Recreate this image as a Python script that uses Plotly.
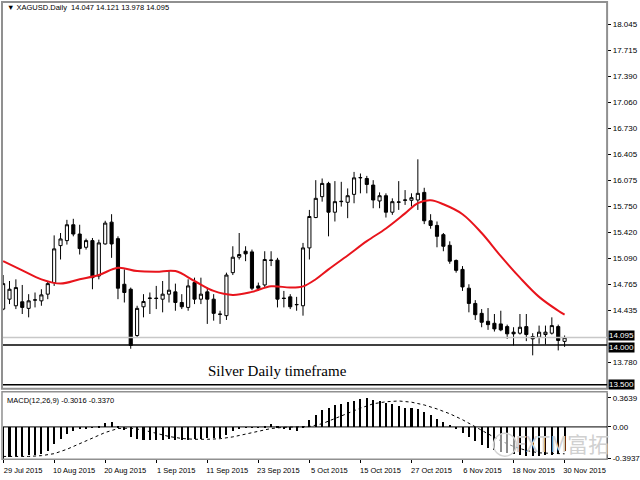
import plotly.graph_objects as go

dates = [
    "2015-07-29", "2015-07-30", "2015-07-31",
    "2015-08-03", "2015-08-04", "2015-08-05", "2015-08-06", "2015-08-07",
    "2015-08-10", "2015-08-11", "2015-08-12", "2015-08-13", "2015-08-14",
    "2015-08-17", "2015-08-18", "2015-08-19", "2015-08-20", "2015-08-21",
    "2015-08-24", "2015-08-25", "2015-08-26", "2015-08-27", "2015-08-28",
    "2015-08-31", "2015-09-01", "2015-09-02", "2015-09-03", "2015-09-04",
    "2015-09-07", "2015-09-08", "2015-09-09", "2015-09-10", "2015-09-11",
    "2015-09-14", "2015-09-15", "2015-09-16", "2015-09-17", "2015-09-18",
    "2015-09-21", "2015-09-22", "2015-09-23", "2015-09-24", "2015-09-25",
    "2015-09-28", "2015-09-29", "2015-09-30", "2015-10-01", "2015-10-02",
    "2015-10-05", "2015-10-06", "2015-10-07", "2015-10-08", "2015-10-09",
    "2015-10-12", "2015-10-13", "2015-10-14", "2015-10-15", "2015-10-16",
    "2015-10-19", "2015-10-20", "2015-10-21", "2015-10-22", "2015-10-23",
    "2015-10-26", "2015-10-27", "2015-10-28", "2015-10-29", "2015-10-30",
    "2015-11-02", "2015-11-03", "2015-11-04", "2015-11-05", "2015-11-06",
    "2015-11-09", "2015-11-10", "2015-11-11", "2015-11-12", "2015-11-13",
    "2015-11-16", "2015-11-17", "2015-11-18", "2015-11-19", "2015-11-20",
    "2015-11-23", "2015-11-24", "2015-11-25", "2015-11-26", "2015-11-27",
    "2015-11-30",
]

open_ = [14.454, 14.579, 14.496, 14.546, 14.463, 14.567, 14.558, 14.642, 14.788, 15.254,
         15.317, 15.517, 15.400, 15.233, 15.317, 14.871, 15.275, 15.550, 15.342, 14.767,
         14.704, 14.121, 14.483, 14.588, 14.592, 14.579, 14.642, 14.671, 14.537, 14.475,
         14.788, 14.579, 14.671, 14.579, 14.392, 14.371, 14.913, 15.108, 15.183, 15.175,
         14.746, 14.758, 15.067, 15.071, 14.592, 14.608, 14.508, 14.496, 15.225, 15.608,
         15.871, 16.038, 15.675, 15.808, 15.800, 15.900, 16.108, 16.100, 16.017, 15.817,
         15.883, 15.675, 15.800, 15.825, 15.825, 15.829, 15.925, 15.567, 15.508, 15.392,
         15.258, 15.067, 14.954, 14.717, 14.525, 14.400, 14.300, 14.275, 14.267, 14.233,
         14.163, 14.150, 14.233, 14.108, 14.100, 14.133, 14.150, 14.233, 14.047]
high = [14.883, 14.808, 14.829, 14.758, 14.642, 14.663, 14.704, 14.808, 15.383, 15.413,
        15.579, 15.592, 15.517, 15.342, 15.350, 15.329, 15.567, 15.650, 15.371, 14.954,
        14.725, 14.496, 14.642, 14.663, 14.746, 14.808, 14.933, 14.775, 14.642, 14.829,
        14.850, 14.850, 14.725, 14.642, 14.433, 14.913, 15.246, 15.413, 15.246, 15.204,
        14.788, 15.183, 15.183, 15.100, 14.683, 14.642, 14.608, 15.288, 15.704, 16.079,
        16.100, 16.058, 16.067, 16.058, 15.975, 16.183, 16.163, 16.133, 16.079, 15.925,
        15.913, 15.850, 16.067, 15.954, 15.913, 16.342, 15.983, 15.650, 15.558, 15.413,
        15.308, 15.079, 14.996, 14.767, 14.567, 14.454, 14.467, 14.392, 14.433, 14.258,
        14.225, 14.392, 14.392, 14.150, 14.246, 14.246, 14.350, 14.258, 14.121]
low = [14.440, 14.517, 14.454, 14.392, 14.350, 14.475, 14.496, 14.579, 14.746, 15.079,
       15.267, 15.371, 15.142, 15.204, 14.704, 14.829, 15.267, 15.100, 14.579, 14.537,
       13.954, 14.100, 14.350, 14.392, 14.454, 14.413, 14.537, 14.433, 14.454, 14.433,
       14.517, 14.517, 14.267, 14.308, 14.267, 14.317, 14.883, 15.079, 15.058, 14.692,
       14.683, 14.733, 14.996, 14.475, 14.475, 14.454, 14.433, 14.371, 15.079, 15.600,
       15.808, 15.371, 15.558, 15.746, 15.600, 15.788, 15.913, 15.913, 15.725, 15.725,
       15.608, 15.642, 15.704, 15.767, 15.746, 15.704, 15.525, 15.467, 15.233, 15.183,
       15.025, 14.913, 14.683, 14.413, 14.317, 14.225, 14.192, 14.171, 14.175, 14.079,
       13.996, 14.133, 14.050, 13.871, 14.017, 14.008, 14.133, 13.933, 13.978]
close = [14.775, 14.704, 14.725, 14.475, 14.558, 14.570, 14.633, 14.775, 15.213, 15.338,
         15.517, 15.400, 15.217, 15.317, 14.850, 15.288, 15.538, 15.275, 14.717, 14.663,
         13.996, 14.463, 14.550, 14.592, 14.588, 14.642, 14.692, 14.537, 14.483, 14.746,
         14.579, 14.642, 14.579, 14.400, 14.388, 14.883, 15.108, 15.142, 15.150, 14.717,
         14.717, 15.079, 15.071, 14.579, 14.588, 14.483, 14.512, 15.225, 15.621, 15.850,
         16.038, 15.675, 15.808, 15.812, 15.883, 16.108, 16.112, 16.025, 15.829, 15.883,
         15.675, 15.808, 15.804, 15.829, 15.858, 15.913, 15.567, 15.508, 15.371, 15.246,
         15.058, 14.942, 14.733, 14.525, 14.383, 14.288, 14.258, 14.204, 14.192, 14.142,
         14.142, 14.225, 14.133, 14.079, 14.163, 14.163, 14.246, 14.058, 14.095]

# red moving average, read at selected bars
ma_dates = ["2015-07-29", "2015-08-03", "2015-08-06", "2015-08-11", "2015-08-14",
            "2015-08-19", "2015-08-24", "2015-08-27", "2015-09-01", "2015-09-04",
            "2015-09-09", "2015-09-14", "2015-09-17", "2015-09-22", "2015-09-25",
            "2015-09-30", "2015-10-02", "2015-10-06", "2015-10-08", "2015-10-13",
            "2015-10-16", "2015-10-21", "2015-10-26", "2015-10-28", "2015-10-30",
            "2015-11-03", "2015-11-06", "2015-11-11", "2015-11-16", "2015-11-19",
            "2015-11-24", "2015-11-27", "2015-11-30"]
ma_values = [15.058, 14.942, 14.829, 14.775, 14.829,
             14.883, 14.975, 14.933, 14.925, 14.933,
             14.808, 14.683, 14.633, 14.671, 14.742,
             14.725, 14.740, 14.830, 14.954, 15.130,
             15.310, 15.470, 15.660, 15.790, 15.825,
             15.775, 15.650, 15.413, 15.121, 14.850,
             14.608, 14.433, 14.383]

macd = [-0.3937, -0.375, -0.365, -0.362, -0.352, -0.345, -0.333, -0.300, -0.207, -0.150,
        -0.084, -0.043, -0.018, -0.010, -0.006, 0.006, 0.047, 0.064, 0.014, -0.035,
        -0.125, -0.150, -0.158, -0.158, -0.158, -0.158, -0.150, -0.158, -0.166, -0.158,
        -0.150, -0.146, -0.141, -0.137, -0.133, -0.100, -0.051, -0.014, 0.002, -0.002,
        0.002, 0.014, 0.035, 0.006, -0.018, -0.035, -0.043, 0.020, 0.085, 0.150,
        0.219, 0.244, 0.273, 0.293, 0.314, 0.334, 0.355, 0.3639, 0.342, 0.326,
        0.301, 0.285, 0.260, 0.244, 0.244, 0.228, 0.191, 0.150, 0.109, 0.068,
        0.027, -0.014, -0.068, -0.125, -0.178, -0.225, -0.255, -0.280, -0.305, -0.325,
        -0.340, -0.350, -0.355, -0.360, -0.358, -0.352, -0.345, -0.330, -0.3016]

sig_dates = dates[0::2]
sig_values = [-0.370, -0.372, -0.370, -0.360, -0.335, -0.280, -0.210, -0.140, -0.070, -0.020,
              -0.015, -0.040, -0.080, -0.120, -0.145, -0.155, -0.155, -0.148, -0.125, -0.090,
              -0.055, -0.020, -0.005, 0.000, 0.005, 0.040, 0.100, 0.170, 0.235, 0.290,
              0.315, 0.325, 0.310, 0.275, 0.225, 0.165, 0.090, 0.000, -0.090, -0.175,
              -0.245, -0.295, -0.325, -0.335, -0.337]

price_ticks = [18.045, 17.715, 17.390, 17.060, 16.730, 16.405, 16.075, 15.750,
               15.420, 15.090, 14.765, 14.435, 13.780]
macd_ticks = [0.3639, 0.0, -0.3937]
macd_tick_text = ["0.3639", "0.00", "-0.3937"]
level_lines = [14.000, 13.500]
date_tick_idx = [0, 8, 16, 24, 32, 40, 48, 56, 64, 72, 80, 88]
date_tick_text = ["29 Jul 2015", "10 Aug 2015", "20 Aug 2015", "1 Sep 2015", "11 Sep 2015",
                  "23 Sep 2015", "5 Oct 2015", "15 Oct 2015", "27 Oct 2015", "6 Nov 2015",
                  "18 Nov 2015", "30 Nov 2015"]

W, H = 640, 480
def px(x):
    return x / W
def py(y):
    return 1 - y / H

FONT = "Liberation Sans, Arial, sans-serif"

fig = go.Figure()
fig.add_trace(go.Candlestick(
    x=dates, open=open_, high=high, low=low, close=close,
    increasing=dict(line=dict(color="black", width=1), fillcolor="white"),
    decreasing=dict(line=dict(color="black", width=1), fillcolor="black"),
    whiskerwidth=0, showlegend=False, xaxis="x", yaxis="y"))
fig.add_trace(go.Scatter(x=ma_dates, y=ma_values, mode="lines",
                         line=dict(color="#e8141c", width=2, shape="spline"),
                         showlegend=False, xaxis="x", yaxis="y"))
fig.add_trace(go.Bar(x=dates, y=macd, marker=dict(color="black", line=dict(width=0)),
                     width=0.32, showlegend=False, xaxis="x2", yaxis="y2"))
fig.add_trace(go.Scatter(x=sig_dates, y=sig_values, mode="lines",
                         line=dict(color="black", width=1, dash="dot"),
                         showlegend=False, xaxis="x2", yaxis="y2"))

xr = [-0.02, 94.66]
fig.update_layout(
    width=W, height=H, margin=dict(l=0, r=0, t=0, b=0),
    paper_bgcolor="white", plot_bgcolor="white",
    font=dict(family=FONT, size=8, color="black"),
    xaxis=dict(domain=[px(3), px(609)], anchor="y", type="category", range=xr,
               showticklabels=False, showgrid=False, zeroline=False,
               rangeslider=dict(visible=False), categoryorder="array", categoryarray=dates),
    yaxis=dict(domain=[py(392), py(3)], side="right", range=[13.45, 18.3125],
               tickvals=price_ticks, ticktext=[f"{v:.3f}" for v in price_ticks],
               ticks="outside", ticklen=3, tickcolor="black",
               showline=True, linecolor="black", linewidth=1,
               showgrid=False, zeroline=False, tickfont=dict(size=8)),
    xaxis2=dict(domain=[px(3), px(609)], anchor="y2", type="category", range=xr,
                matches="x", categoryorder="array", categoryarray=dates,
                tickvals=[dates[i] for i in date_tick_idx], ticktext=date_tick_text,
                ticks="outside", ticklen=3, tickcolor="black", tickangle=0,
                ticklabelshift=20, ticklabelstandoff=1,
                showgrid=False, zeroline=False, tickfont=dict(size=7.5)),
    yaxis2=dict(domain=[py(463), py(396)], side="right", range=[-0.4037, 0.4286],
                tickvals=macd_ticks, ticktext=macd_tick_text,
                ticks="outside", ticklen=3, tickcolor="black",
                showline=True, linecolor="black", linewidth=1,
                showgrid=False, zeroline=False, tickfont=dict(size=8)),
    bargap=0,
)

shapes = []
# window frames
shapes.append(dict(type="rect", xref="paper", yref="paper", x0=px(2), x1=px(609),
                   y0=py(392), y1=py(2), line=dict(color="#909090", width=2)))
shapes.append(dict(type="rect", xref="paper", yref="paper", x0=px(2), x1=px(609),
                   y0=py(463), y1=py(395), line=dict(color="#909090", width=1.5)))
# bid line
shapes.append(dict(type="line", xref="x domain", yref="y", x0=0, x1=1,
                   y0=close[-1], y1=close[-1], line=dict(color="#c8c8c8", width=1.5)))
for lv in level_lines:
    shapes.append(dict(type="line", xref="x domain", yref="y", x0=0, x1=1,
                       y0=lv, y1=lv, line=dict(color="black", width=1.5)))
# MACD zero line
shapes.append(dict(type="line", xref="x2 domain", yref="y2", x0=0, x1=1,
                   y0=0, y1=0, line=dict(color="black", width=1)))
# watermark logo circle
shapes.append(dict(type="circle", xref="paper", yref="paper", x0=px(495), x1=px(518),
                   y0=py(460), y1=py(437), fillcolor="rgba(255,255,255,0.55)",
                   line=dict(color="#d4d4d4", width=1.5)))
fig.update_layout(shapes=shapes)

ann = []
box_shift = [2, -2, 0]
for lv, sh in zip([close[-1]] + level_lines, box_shift):
    ann.append(dict(x=px(610), y=lv, xref="paper", yref="y", xanchor="left",
                    yanchor="middle", text=f"{lv:.3f}", showarrow=False, yshift=sh,
                    bgcolor="black", font=dict(color="white", size=8, family=FONT),
                    borderpad=0))
ann.append(dict(x=px(5), y=py(8), xref="paper", yref="paper", xanchor="left",
                yanchor="middle", showarrow=False,
                text=f"▼ XAGUSD.Daily  {open_[-1]:.3f} {high[-1]:.3f} {low[-1]:.3f} {close[-1]:.3f}",
                font=dict(size=7.5, family=FONT)))
ann.append(dict(x=px(5), y=py(404), xref="paper", yref="paper", xanchor="left",
                yanchor="middle", showarrow=False,
                text=f"MACD(12,26,9) {macd[-1]:.4f} {sig_values[-1]:.4f}",
                font=dict(size=7.5, family=FONT)))
ann.append(dict(x=px(278), y=py(374), xref="paper", yref="paper", xanchor="center",
                yanchor="middle", showarrow=False, text="Silver Daily timeframe",
                font=dict(size=15, family="Liberation Serif, Times New Roman, serif")))
ann.append(dict(x=px(564), y=py(447), xref="paper", yref="paper", xanchor="center",
                yanchor="middle", showarrow=False, text="FXTM富拓",
                font=dict(size=21, color="#d0d0d0", family="Noto Sans CJK SC")))
fig.update_layout(annotations=ann)

fig.write_html("out.html", config={"displayModeBar": False},
               post_script="document.body.style.margin='0';document.body.style.overflow='hidden';")
